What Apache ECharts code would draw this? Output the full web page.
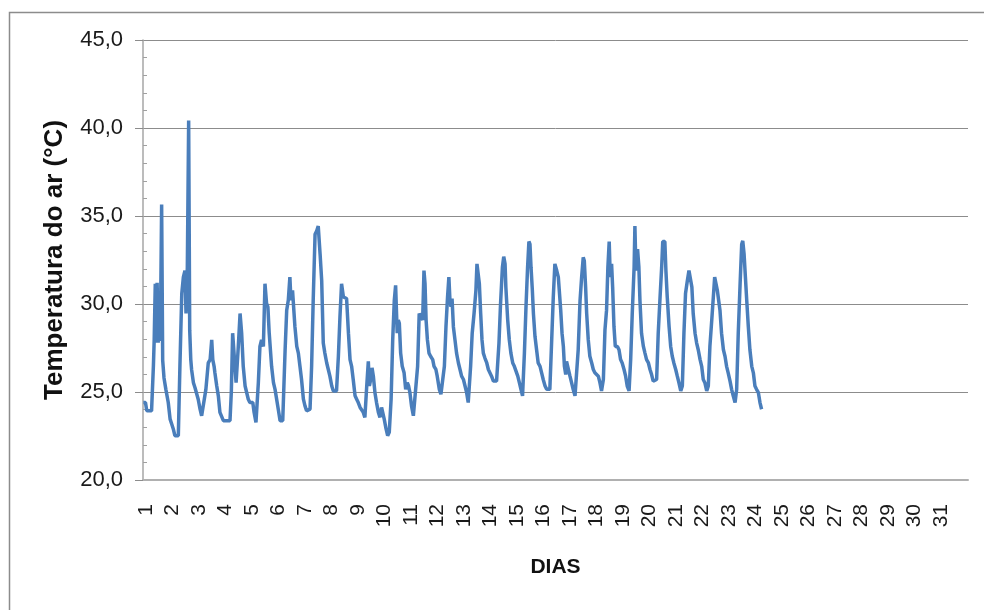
<!DOCTYPE html>
<html>
<head>
<meta charset="utf-8">
<script src="https://cdn.jsdelivr.net/npm/echarts@6/dist/echarts.min.js"></script>
<style>
html,body{margin:0;padding:0;background:#ffffff;}
#c{width:984px;height:610px;}
</style>
</head>
<body>
<div id="c"></div>
<script>
// Rótulos do eixo X (dias do mês)
const rotulosDias = [1,2,3,4,5,6,7,8,9,10,11,12,13,14,15,16,17,18,19,20,21,22,23,24,25,26,27,28,29,30,31];

// Instante de cada leitura (em dias) e temperatura do ar (°C)
const dias = [
  0.90,0.98,1.03,1.21,1.28,1.31,1.35,1.38,1.42,1.46,1.50,1.54,1.59,1.63,1.68,1.75,1.84,1.91,1.97,2.03,2.09,2.22,
  2.28,2.35,2.41,2.47,2.51,2.56,2.61,2.65,2.69,2.72,2.79,2.85,2.91,2.97,3.04,3.10,3.16,
  3.26,3.35,3.42,3.48,3.52,3.57,3.60,3.67,3.73,3.79,3.92,3.98,4.17,
  4.22,4.27,4.32,4.40,4.48,4.55,4.61,4.67,4.74,4.86,4.92,5.03,5.08,5.15,
  5.24,5.30,5.36,5.43,5.49,5.55,5.60,5.65,5.74,5.81,5.87,5.99,6.06,6.16,
  6.25,6.31,6.37,6.43,6.47,6.53,6.58,6.62,6.69,6.75,6.81,6.87,6.94,7.00,7.06,7.19,
  7.25,7.31,7.38,7.44,7.50,7.57,7.63,7.69,7.75,7.82,7.88,7.94,8.01,8.07,8.19,
  8.26,8.32,8.38,8.45,8.51,8.57,8.64,8.70,8.76,8.82,8.89,8.95,9.01,9.08,9.14,9.20,9.26,
  9.33,9.39,9.43,9.48,9.53,9.58,9.64,9.70,9.77,9.83,9.89,9.96,9.99,10.06,10.12,10.18,
  10.25,10.31,10.37,10.42,10.46,10.48,10.52,10.56,10.61,10.67,10.74,10.80,10.86,10.91,10.96,11.02,11.09,11.16,
  11.25,11.31,11.38,11.44,11.49,11.53,11.57,11.62,11.68,11.74,11.82,11.87,11.94,11.99,12.07,12.13,12.19,
  12.26,12.32,12.38,12.43,12.47,12.51,12.55,12.60,12.66,12.72,12.79,12.85,12.91,12.98,13.04,13.10,13.16,
  13.25,13.31,13.38,13.42,13.45,13.49,13.54,13.58,13.63,13.68,13.73,13.79,13.86,13.92,13.98,14.04,14.11,14.23,
  14.32,14.38,14.45,14.50,14.55,14.58,14.65,14.71,14.77,14.84,14.90,14.96,15.03,15.09,15.15,15.21,
  15.28,15.34,15.40,15.45,15.49,15.53,15.58,15.62,15.68,15.74,15.80,15.87,15.93,15.99,16.06,16.12,16.24,
  16.31,16.37,16.43,16.50,16.56,16.60,16.65,16.70,16.75,16.79,16.84,16.87,16.94,17.00,17.06,17.12,17.19,17.25,
  17.31,17.38,17.44,17.50,17.54,17.59,17.63,17.69,17.75,17.82,17.88,17.94,18.01,18.07,18.13,18.19,18.26,
  18.32,18.38,18.43,18.48,18.52,18.57,18.61,18.66,18.71,18.79,18.85,18.91,18.97,19.04,19.10,19.16,19.23,
  19.29,19.35,19.42,19.45,19.49,19.55,19.60,19.64,19.70,19.77,19.83,19.89,19.96,20.02,20.08,20.14,20.21,20.27,
  20.33,20.40,20.46,20.50,20.58,20.62,20.67,20.74,20.80,20.86,20.92,20.99,21.05,21.11,21.18,21.24,
  21.30,21.36,21.43,21.49,21.55,21.60,21.65,21.72,21.78,21.84,21.91,21.97,22.03,22.09,22.16,22.22,
  22.28,22.35,22.41,22.46,22.51,22.56,22.61,22.66,22.72,22.79,22.85,22.91,22.97,23.04,23.10,23.16,23.23,23.29,
  23.35,23.42,23.48,23.52,23.57,23.62,23.67,23.73,23.79,23.86,23.92,23.98,24.04,24.11,24.17,24.23
];

const temperatura = [
  24.40,24.40,23.93,23.93,26.50,28.00,31.15,27.80,31.20,27.80,30.50,27.90,35.65,26.80,25.80,25.15,24.40,23.46,23.18,22.90,22.52,22.52,
  26.46,30.59,31.53,31.90,29.46,32.09,40.43,28.50,26.84,26.28,25.53,25.24,25.15,24.59,24.03,23.65,23.65,
  25.15,26.65,26.84,27.96,26.84,26.46,26.09,25.34,24.78,23.84,23.37,23.37,23.37,
  25.00,28.34,28.34,25.53,27.50,29.46,28.34,26.46,25.34,24.59,24.40,24.40,23.84,23.27,
  25.53,27.59,27.96,27.59,31.15,30.03,29.84,28.34,26.46,25.53,25.15,24.03,23.37,23.37,
  27.40,29.65,30.21,31.53,30.21,30.78,30.68,28.71,27.59,27.21,26.46,25.71,24.59,24.21,23.93,24.03,
  26.46,30.21,33.96,34.15,34.43,32.84,31.34,27.78,27.21,26.65,26.28,25.90,25.34,25.06,25.06,
  27.03,29.28,31.15,30.40,30.31,30.31,28.34,26.84,26.46,25.71,24.78,24.59,24.40,24.12,24.02,23.84,23.56,
  25.34,26.74,25.34,25.71,26.37,25.90,24.96,24.40,23.84,23.56,24.12,24.02,23.46,22.90,22.52,22.71,
  24.59,27.96,30.21,31.06,31.06,28.34,29.09,28.90,27.21,26.46,26.09,25.15,25.53,25.34,24.96,24.21,23.65,23.65,
  26.46,29.46,29.46,29.09,31.90,31.15,29.09,27.96,27.21,27.03,26.84,26.46,26.28,25.90,25.15,24.87,24.78,
  26.46,28.71,30.40,31.53,30.21,29.84,30.31,28.71,27.96,27.21,26.65,26.28,25.90,25.71,25.34,24.96,24.40,
  26.46,28.34,29.46,29.46,30.78,32.28,32.28,31.15,29.46,27.96,27.21,26.93,26.65,26.28,26.28,25.90,25.62,25.62,
  27.78,30.03,32.09,32.69,32.28,30.96,29.09,27.96,27.21,26.65,26.46,26.37,25.90,25.53,25.15,24.78,
  27.21,29.84,32.09,33.55,33.40,32.09,30.78,29.46,28.15,27.40,26.65,26.46,26.09,25.71,25.34,25.15,25.15,
  27.96,30.40,32.28,31.90,31.53,31.53,29.65,28.34,27.59,26.46,25.99,26.74,26.65,25.90,25.53,25.15,24.78,24.70,
  27.40,30.21,31.53,32.65,32.46,30.96,29.46,27.96,27.03,26.65,26.28,26.09,25.99,25.90,25.53,25.06,25.71,
  28.53,29.65,32.09,33.55,31.53,32.28,30.96,28.71,27.59,27.59,27.40,26.84,26.65,26.28,25.90,25.34,25.06,
  26.84,29.46,32.09,34.43,31.90,33.12,32.09,30.21,28.34,27.59,27.21,26.84,26.65,26.28,25.99,25.62,25.53,25.71,
  28.34,30.40,32.09,33.55,33.55,31.90,30.40,28.71,27.59,27.03,26.65,26.28,25.90,25.53,25.06,25.34,
  28.34,30.59,31.34,31.90,31.90,30.96,29.46,28.34,27.78,27.40,26.84,26.46,25.71,25.53,25.06,25.34,
  27.59,29.09,30.40,31.53,31.43,30.78,30.78,29.65,28.34,27.40,27.03,26.46,26.09,25.62,25.15,24.78,24.40,25.15,
  28.34,31.15,33.40,33.59,32.84,31.53,30.21,28.71,27.40,26.46,26.09,25.34,25.15,24.96,24.40,24.02
];

const serie = dias.map((d, i) => [d, temperatura[i]]);

const chart = echarts.init(document.getElementById('c'), null, { renderer: 'canvas' });
chart.setOption({
  animation: false,
  backgroundColor: '#ffffff',
  textStyle: { fontFamily: '"Liberation Sans", Arial, sans-serif' },
  graphic: [{
    type: 'rect',
    silent: true,
    z: -10,
    shape: { x: 9.5, y: 12.5, width: 1000, height: 700 },
    style: { fill: 'none', stroke: '#8c8c8c', lineWidth: 1.5 }
  }],
  grid: { left: 143, right: 16, top: 40, bottom: 130 },
  xAxis: {
    type: 'value',
    min: 0.887,
    max: 32.02,
    axisLine: { show: true, onZero: false, lineStyle: { color: '#b0b0b0', width: 2 } },
    axisTick: { show: false },
    splitLine: { show: false },
    axisLabel: {
      customValues: rotulosDias,
      rotate: 90,
      margin: 24,
      fontSize: 21,
      color: '#1a1a1a',
      formatter: v => String(v)
    },
    name: 'DIAS',
    nameLocation: 'middle',
    nameGap: 77,
    nameTextStyle: { fontSize: 21, fontWeight: 'bold', color: '#111111' }
  },
  yAxis: {
    type: 'value',
    min: 20,
    max: 45,
    interval: 5,
    axisLine: { show: true, lineStyle: { color: '#a6a6a6', width: 1.5 } },
    axisTick: { show: true, length: 8, lineStyle: { color: '#8c8c8c' } },
    minorTick: { show: true, splitNumber: 5, length: -4, lineStyle: { color: '#a0a0a0' } },
    splitLine: { show: true, lineStyle: { color: '#8c8c8c', width: 1 } },
    axisLabel: {
      margin: 20,
      fontSize: 22,
      color: '#1a1a1a',
      formatter: v => v.toFixed(1).replace('.', ',')
    },
    name: 'Temperatura do ar (°C)',
    nameLocation: 'middle',
    nameRotate: 90,
    nameGap: 75,
    nameTextStyle: { fontSize: 26, fontWeight: 'bold', color: '#111111' }
  },
  series: [{
    type: 'line',
    data: serie,
    showSymbol: false,
    symbol: 'none',
    lineStyle: { color: '#4a7ebb', width: 3.5 },
    itemStyle: { color: '#4a7ebb' }
  }]
});
</script>
</body>
</html>
